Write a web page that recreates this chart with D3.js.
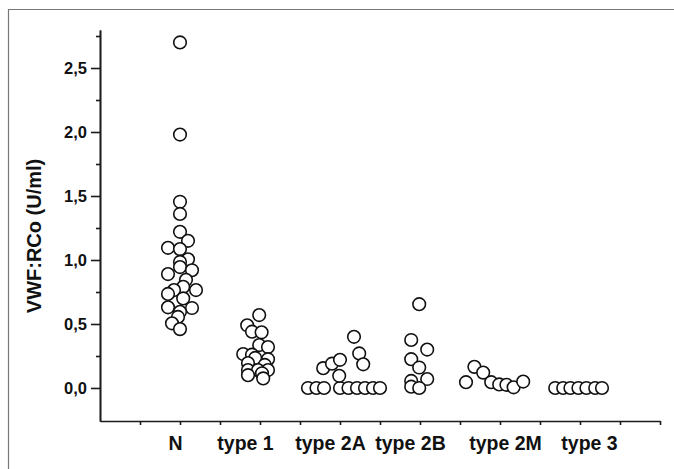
<!DOCTYPE html>
<html>
<head>
<meta charset="utf-8">
<script src="https://cdn.jsdelivr.net/npm/d3@7"></script>
<style>
  body { margin: 0; background: #fff; }
  svg { display: block; font-family: 'Liberation Sans', Arial, sans-serif; }
</style>
</head>
<body>
<script>
const categories = ['N', 'type 1', 'type 2A', 'type 2B', 'type 2M', 'type 3']
const yTicks = [0, 0.5, 1, 1.5, 2, 2.5]
const yMinorTicks = [0.25, 0.75, 1.25, 1.75, 2.25, 2.75]

// x = position in category units (1 = N ... 6 = type 3, spread as on the plot), v = VWF:RCo U/ml
const nX = [1.00, 1.00, 1.00, 1.00, 1.00, 1.10, 0.85, 1.00, 1.10, 1.00, 1.00, 1.15, 0.85, 1.075, 1.04, 1.20, 0.925, 0.85, 1.04, 0.85, 1.15, 1.00, 0.975, 0.90, 1.00]
const nVal = [2.70, 1.98, 1.455, 1.36, 1.22, 1.15, 1.095, 1.085, 1.005, 0.985, 0.945, 0.92, 0.89, 0.845, 0.79, 0.765, 0.765, 0.735, 0.70, 0.63, 0.625, 0.595, 0.555, 0.505, 0.46]

const t1X = [1.99, 1.84, 1.90, 2.02, 1.99, 2.10, 1.79, 1.90, 1.94, 2.10, 1.85, 2.06, 1.85, 1.975, 2.10, 1.85, 2.025, 2.04]
const t1Val = [0.57, 0.49, 0.44, 0.435, 0.335, 0.32, 0.265, 0.26, 0.235, 0.225, 0.195, 0.18, 0.14, 0.14, 0.14, 0.10, 0.115, 0.075]

const t2aX = [2.60, 2.706, 2.80, 3.00, 3.106, 3.2125, 3.3125, 3.4125, 3.50, 2.79, 2.90, 3.00, 2.99, 3.175, 3.24, 3.29]
const t2aVal = [0, 0, 0, 0, 0, 0, 0, 0, 0, 0.155, 0.19, 0.22, 0.095, 0.40, 0.27, 0.185]

const t2bX = [3.99, 3.89, 4.09, 3.89, 3.99, 4.09, 3.89, 3.89, 3.99]
const t2bVal = [0.655, 0.375, 0.30, 0.225, 0.16, 0.07, 0.055, 0.01, 0.0]

const t2mX = [4.575, 4.68, 4.79, 4.89, 4.99, 5.08, 5.17, 5.29]
const t2mVal = [0.045, 0.165, 0.12, 0.045, 0.028, 0.025, 0.005, 0.05]

const t3X = [5.69, 5.79, 5.88, 5.98, 6.08, 6.19, 6.275]
const t3Val = [0, 0, 0, 0, 0, 0, 0]

const groups = [[nX, nVal], [t1X, t1Val], [t2aX, t2aVal], [t2bX, t2bVal], [t2mX, t2mVal], [t3X, t3Val]]
const points = groups.flatMap(([xs, vs]) => xs.map((x, i) => ({x: x, v: vs[i]})))

const width = 674
const height = 469
// category labels are not centred on their columns in the original
const labelShift = [-5, -15, -10, -10, 5, 9]

const svg = d3.select('body').append('svg').attr('width', width).attr('height', height)

// thin frame round the figure
svg.append('path').attr('d', 'M8.5,469 V9.5 H674').attr('fill', 'none').attr('stroke', '#777').attr('stroke-width', 1.2)

const xScale = d3.scaleLinear().domain([0, 7]).range([100, 660])
const yScale = d3.scaleLinear().domain([-0.258, 2.797]).range([421, 30])

const yMinor = d3.axisLeft(yScale).tickValues(yMinorTicks).tickSize(4).tickSizeOuter(0).tickFormat('')
svg.append('g').attr('transform', 'translate(100,0)').call(yMinor)

const yAxis = d3.axisLeft(yScale).tickValues(yTicks).tickSize(9).tickSizeOuter(0).tickPadding(4)
    .tickFormat((d) => d3.format('.1f')(d).replace('.', ','))
svg.append('g').attr('class', 'yaxis').attr('transform', 'translate(100,0)').call(yAxis)

const xAxis = d3.axisBottom(xScale).tickValues(d3.range(0.5, 7.01, 0.5)).tickSize(4).tickSizeOuter(0).tickFormat('')
svg.append('g').attr('transform', 'translate(0,421)').call(xAxis)

const xLabels = d3.axisBottom(xScale).tickValues(d3.range(1, 7)).tickSize(0).tickPadding(15)
    .tickFormat((d) => categories[d - 1])
const xl = svg.append('g').attr('class', 'xlabels').attr('transform', 'translate(0,421)').call(xLabels)
xl.select('.domain').remove()
xl.selectAll('text').attr('dx', (d) => labelShift[d - 1])

svg.selectAll('.domain, .tick line').attr('stroke', '#1a1a1a').attr('stroke-width', 1.6)
svg.selectAll('.tick text').attr('fill', '#111').attr('font-weight', 'bold')
svg.selectAll('.yaxis text').attr('font-size', 16.5)
svg.selectAll('.xlabels text').attr('font-size', 19.5)

svg.append('text')
    .attr('transform', 'translate(41,236) rotate(-90)')
    .attr('text-anchor', 'middle')
    .attr('font-size', 20)
    .attr('font-weight', 'bold')
    .attr('fill', '#111')
    .text('VWF:RCo (U/ml)')

svg.append('g').selectAll('circle').data(points).enter().append('circle')
    .attr('cx', (d) => xScale(d.x))
    .attr('cy', (d) => yScale(d.v))
    .attr('r', 6.3)
    .attr('fill', '#fff')
    .attr('stroke', '#111')
    .attr('stroke-width', 1.6)
</script>
</body>
</html>
